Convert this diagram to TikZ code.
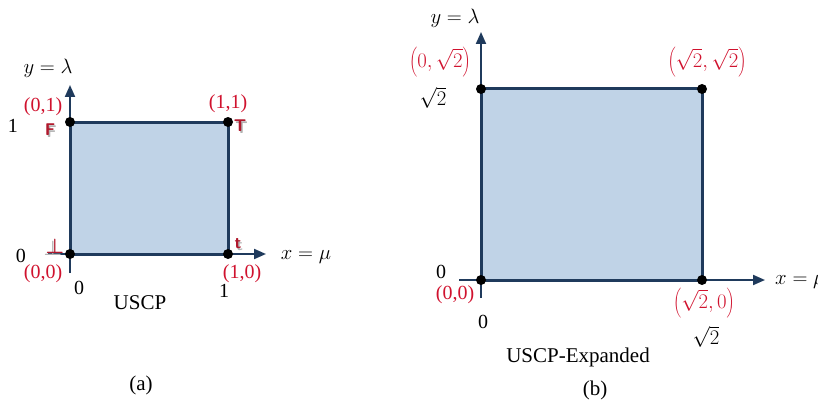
\documentclass[tikz,border=0pt]{standalone}
\usepackage{fontspec}
\setmainfont{Liberation Serif}
\usetikzlibrary{arrows.meta}
\definecolor{navy}{HTML}{1F3A5C}
\definecolor{boxfill}{HTML}{C0D3E7}
\definecolor{lblred}{HTML}{D0122E}
\definecolor{tagred}{HTML}{B0182C}
\newcommand{\tallpar}[1]{$\left(\vrule height 20pt depth 8pt width 0pt #1\right)$}
\begin{document}
\begin{tikzpicture}[x=1pt,y=-1pt,
  axis/.style={draw=navy,line width=2pt,-{Triangle[length=12pt,width=10pt]}},
  region/.style={fill=boxfill,draw=navy,line width=3pt,line join=miter},
  dot/.style={circle,fill=black,inner sep=0pt,minimum size=10pt},
  lbl/.style={font=\fontsize{20}{24}\selectfont,inner sep=0pt},
  captxt/.style={font=\fontsize{21}{24}\selectfont,inner sep=0pt},
  rlbl/.style={lbl,text=lblred},
  tagshadow/.style={font=\sffamily\bfseries\fontsize{17}{17}\selectfont,text=black!30,inner sep=0pt},
  tag/.style={font=\sffamily\bfseries\fontsize{17}{17}\selectfont,text=tagred,inner sep=0pt}
]
\useasboundingbox (0,0) rectangle (818,401);

% ---------------- (a) ----------------
\coordinate (a00) at (70,254);
\coordinate (a10) at (228,254);
\coordinate (a11) at (228,122);
\coordinate (a01) at (70,122);
\coordinate (ayb) at (70,273);
\coordinate (ayt) at (70,85);
\coordinate (axl) at (48,254);
\coordinate (axr) at (266,254);
\path[region] (a00) -- (a10) -- (a11) -- (a01) -- cycle;
\draw[axis] (ayb) -- (ayt);
\draw[axis] (axl) -- (axr);
\node[dot] (da00) at (a00) {};
\node[dot] (da10) at (a10) {};
\node[dot] (da11) at (a11) {};
\node[dot] (da01) at (a01) {};

\node[lbl] (aylab) at (48,68) {$y=\lambda$};
\node[lbl] (axlab) at (306,257) {$x=\mu$};
\node[lbl] (a1y) at (13,126) {1};
\node[lbl] (a0y) at (21,256) {0};
\node[lbl] (a0x) at (79,288) {0};
\node[lbl] (a1x) at (224,291) {1};
\node[rlbl] (lab01) at (43,107) {(0,1)};
\node[rlbl] (lab11) at (228,104) {(1,1)};
\node[rlbl] (lab00) at (43,274) {(0,0)};
\node[rlbl] (lab10) at (242,274) {(1,0)};
\node[tagshadow] at (51.5,131.5) {F};
\node[tag] (tF) at (50,130) {F};
\node[tagshadow] at (241.5,127.5) {T};
\node[tag] (tT) at (240,126) {T};
\node[tagshadow] at (239.5,245.5) {t};
\node[tag] (tt) at (238,244) {t};
\node[tagshadow,font=\boldmath\fontsize{20}{20}\selectfont] at (53,248) {$\bot$};
\node[tag,font=\boldmath\fontsize{20}{20}\selectfont] (tbot) at (55,246) {$\bot$};
\node[captxt] (capA) at (140,303) {USCP};
\node[captxt] (subA) at (141,385) {(a)};

% ---------------- (b) ----------------
\coordinate (b00) at (481,280);
\coordinate (b10) at (702,280);
\coordinate (b11) at (702,89);
\coordinate (b01) at (481,89);
\coordinate (byb) at (481,298);
\coordinate (byt) at (481,32);
\coordinate (bxl) at (459,280);
\coordinate (bxr) at (765,280);
\path[region] (b00) -- (b10) -- (b11) -- (b01) -- cycle;
\draw[axis] (byb) -- (byt);
\draw[axis] (bxl) -- (bxr);
\node[dot] (db00) at (b00) {};
\node[dot] (db10) at (b10) {};
\node[dot] (db11) at (b11) {};
\node[dot] (db01) at (b01) {};

\node[lbl] (bylab) at (455,18) {$y=\lambda$};
\node[lbl,anchor=west] (bxlab) at (775,282) {$x=\mu$};
\node[lbl] (bsy) at (433,98) {$\sqrt{2}$};
\node[lbl] (b0y) at (441,272) {0};
\node[lbl] (b0x) at (483,322) {0};
\node[lbl] (bsx) at (706,337) {$\sqrt{2}$};
\node[rlbl] (blab01) at (440,62) {\tallpar{0,\sqrt{2}}};
\node[rlbl] (blab11) at (707,62) {\tallpar{\sqrt{2},\sqrt{2}}};
\node[rlbl] (blab00) at (455,295) {(0,0)};
\node[rlbl] (blab10) at (704,303) {\tallpar{\sqrt{2},0}};
\node[captxt] (capB) at (578,357) {USCP-Expanded};
\node[captxt] (subB) at (595,390) {(b)};
\end{tikzpicture}
\end{document}
